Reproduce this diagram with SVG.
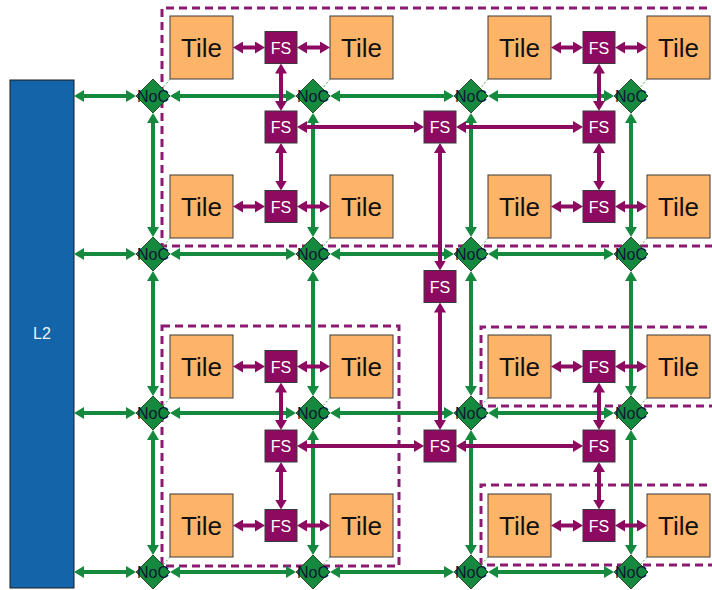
<svg xmlns="http://www.w3.org/2000/svg" width="712" height="590" viewBox="0 0 712 590">
<style>
.tile{fill:#FDB469;stroke:#3a3a3a;stroke-width:1}
.tt{font-family:"Liberation Sans",Arial,sans-serif;font-size:26px;fill:#111;text-anchor:middle}
.fs{fill:#8C0A60;stroke:#3a3a3a;stroke-width:1}
.ft{font-family:"Liberation Sans",Arial,sans-serif;font-size:16px;fill:#fff;text-anchor:middle}
.noc{fill:#15893E;stroke:#2a4a2a;stroke-width:1}
.nt{font-family:"Liberation Sans",Arial,sans-serif;font-size:16px;fill:#0b1733;text-anchor:middle}
.g{stroke:#15893E;stroke-width:4;marker-start:url(#ag);marker-end:url(#ag)}
.p{stroke:#8C0A60;stroke-width:4;marker-start:url(#ap);marker-end:url(#ap)}
.dash{fill:none;stroke:#8C1A72;stroke-width:3;stroke-dasharray:8 5}
.dot{stroke:#4CAF50;stroke-width:1;stroke-dasharray:2 2}
</style>
<defs>
<marker id="ag" markerUnits="userSpaceOnUse" markerWidth="11" markerHeight="12" refX="6" refY="6" orient="auto-start-reverse" viewBox="0 0 11 12"><path d="M0,0 L10,6 L0,12 z" fill="#15893E"/></marker>
<marker id="ap" markerUnits="userSpaceOnUse" markerWidth="11" markerHeight="12" refX="6" refY="6" orient="auto-start-reverse" viewBox="0 0 11 12"><path d="M0,0 L10,6 L0,12 z" fill="#8C0A60"/></marker>
</defs>
<rect width="712" height="590" fill="#fff"/>
<g id="clusters">
<path class="dash" d="M720,8 H162 V246 H720"/>
<rect class="dash" x="162" y="326" width="237" height="240"/>
<path class="dash" d="M720,327 H481 V406 H720"/>
<path class="dash" d="M720,485 H481 V565 H720"/>
</g>
<g id="L2"><rect x="10" y="80" width="64" height="508" fill="#1464AA" stroke="#1a1a1a" stroke-width="1"/><text x="42" y="339" font-family="'Liberation Sans',Arial,sans-serif" font-size="16" fill="#eef3fa" text-anchor="middle">L2</text></g>
<g id="tiles">
<g id="t00"><rect class="tile" x="170" y="16" width="63" height="63"/><text class="tt" x="201.5" y="57">Tile</text></g>
<g id="t01"><rect class="tile" x="330" y="16" width="63" height="63"/><text class="tt" x="361.5" y="57">Tile</text></g>
<g id="t02"><rect class="tile" x="488" y="16" width="63" height="63"/><text class="tt" x="519.5" y="57">Tile</text></g>
<g id="t03"><rect class="tile" x="647" y="16" width="63" height="63"/><text class="tt" x="678.5" y="57">Tile</text></g>
<g id="t10"><rect class="tile" x="170" y="175" width="63" height="63"/><text class="tt" x="201.5" y="216">Tile</text></g>
<g id="t11"><rect class="tile" x="330" y="175" width="63" height="63"/><text class="tt" x="361.5" y="216">Tile</text></g>
<g id="t12"><rect class="tile" x="488" y="175" width="63" height="63"/><text class="tt" x="519.5" y="216">Tile</text></g>
<g id="t13"><rect class="tile" x="647" y="175" width="63" height="63"/><text class="tt" x="678.5" y="216">Tile</text></g>
<g id="t20"><rect class="tile" x="170" y="335" width="63" height="63"/><text class="tt" x="201.5" y="376">Tile</text></g>
<g id="t21"><rect class="tile" x="330" y="335" width="63" height="63"/><text class="tt" x="361.5" y="376">Tile</text></g>
<g id="t22"><rect class="tile" x="488" y="335" width="63" height="63"/><text class="tt" x="519.5" y="376">Tile</text></g>
<g id="t23"><rect class="tile" x="647" y="335" width="63" height="63"/><text class="tt" x="678.5" y="376">Tile</text></g>
<g id="t30"><rect class="tile" x="170" y="494" width="63" height="63"/><text class="tt" x="201.5" y="535">Tile</text></g>
<g id="t31"><rect class="tile" x="330" y="494" width="63" height="63"/><text class="tt" x="361.5" y="535">Tile</text></g>
<g id="t32"><rect class="tile" x="488" y="494" width="63" height="63"/><text class="tt" x="519.5" y="535">Tile</text></g>
<g id="t33"><rect class="tile" x="647" y="494" width="63" height="63"/><text class="tt" x="678.5" y="535">Tile</text></g>
</g>
<g id="connectors">
<g id="tile-noc-links">
<line class="dot" x1="170" y1="79" x2="162" y2="89"/><line class="dot" x1="330" y1="79" x2="322" y2="89"/><line class="dot" x1="488" y1="79" x2="480" y2="89"/><line class="dot" x1="647" y1="79" x2="639" y2="89"/>
<line class="dot" x1="170" y1="238" x2="162" y2="248"/><line class="dot" x1="330" y1="238" x2="322" y2="248"/><line class="dot" x1="488" y1="238" x2="480" y2="248"/><line class="dot" x1="647" y1="238" x2="639" y2="248"/>
<line class="dot" x1="170" y1="398" x2="162" y2="407"/><line class="dot" x1="330" y1="398" x2="322" y2="407"/><line class="dot" x1="488" y1="398" x2="480" y2="407"/><line class="dot" x1="647" y1="398" x2="639" y2="407"/>
<line class="dot" x1="170" y1="557" x2="162" y2="566"/><line class="dot" x1="330" y1="557" x2="322" y2="566"/><line class="dot" x1="488" y1="557" x2="480" y2="566"/><line class="dot" x1="647" y1="557" x2="639" y2="566"/>
</g>
<g id="noc-links">
<line class="g" x1="78" y1="96" x2="132" y2="96"/><line class="g" x1="174" y1="96" x2="292" y2="96"/><line class="g" x1="334" y1="96" x2="450" y2="96"/><line class="g" x1="492" y1="96" x2="610" y2="96"/>
<line class="g" x1="78" y1="254" x2="132" y2="254"/><line class="g" x1="174" y1="254" x2="292" y2="254"/><line class="g" x1="334" y1="254" x2="450" y2="254"/><line class="g" x1="492" y1="254" x2="610" y2="254"/>
<line class="g" x1="78" y1="413" x2="132" y2="413"/><line class="g" x1="174" y1="413" x2="292" y2="413"/><line class="g" x1="334" y1="413" x2="450" y2="413"/><line class="g" x1="492" y1="413" x2="610" y2="413"/>
<line class="g" x1="78" y1="572" x2="132" y2="572"/><line class="g" x1="174" y1="572" x2="292" y2="572"/><line class="g" x1="334" y1="572" x2="450" y2="572"/><line class="g" x1="492" y1="572" x2="610" y2="572"/>
<line class="g" x1="153" y1="117" x2="153" y2="233"/><line class="g" x1="153" y1="275" x2="153" y2="392"/><line class="g" x1="153" y1="434" x2="153" y2="551"/>
<line class="g" x1="313" y1="117" x2="313" y2="233"/><line class="g" x1="313" y1="275" x2="313" y2="392"/><line class="g" x1="313" y1="434" x2="313" y2="551"/>
<line class="g" x1="471" y1="117" x2="471" y2="233"/><line class="g" x1="471" y1="275" x2="471" y2="392"/><line class="g" x1="471" y1="434" x2="471" y2="551"/>
<line class="g" x1="631" y1="117" x2="631" y2="233"/><line class="g" x1="631" y1="275" x2="631" y2="392"/><line class="g" x1="631" y1="434" x2="631" y2="551"/>
</g>
<g id="fs-links">
<line class="p" x1="237" y1="47.5" x2="261" y2="47.5"/><line class="p" x1="301" y1="47.5" x2="326" y2="47.5"/><line class="p" x1="555" y1="47.5" x2="579" y2="47.5"/><line class="p" x1="619" y1="47.5" x2="643" y2="47.5"/>
<line class="p" x1="237" y1="206.5" x2="261" y2="206.5"/><line class="p" x1="301" y1="206.5" x2="326" y2="206.5"/><line class="p" x1="555" y1="206.5" x2="579" y2="206.5"/><line class="p" x1="619" y1="206.5" x2="643" y2="206.5"/>
<line class="p" x1="237" y1="366.5" x2="261" y2="366.5"/><line class="p" x1="301" y1="366.5" x2="326" y2="366.5"/><line class="p" x1="555" y1="366.5" x2="579" y2="366.5"/><line class="p" x1="619" y1="366.5" x2="643" y2="366.5"/>
<line class="p" x1="237" y1="525.5" x2="261" y2="525.5"/><line class="p" x1="301" y1="525.5" x2="326" y2="525.5"/><line class="p" x1="555" y1="525.5" x2="579" y2="525.5"/><line class="p" x1="619" y1="525.5" x2="643" y2="525.5"/>
<line class="p" x1="281" y1="67.5" x2="281" y2="107"/><line class="p" x1="281" y1="147" x2="281" y2="186.5"/><line class="p" x1="281" y1="386.5" x2="281" y2="426"/><line class="p" x1="281" y1="466" x2="281" y2="505.5"/>
<line class="p" x1="599" y1="67.5" x2="599" y2="107"/><line class="p" x1="599" y1="147" x2="599" y2="186.5"/><line class="p" x1="599" y1="386.5" x2="599" y2="426"/><line class="p" x1="599" y1="466" x2="599" y2="505.5"/>
<line class="p" x1="440" y1="147" x2="440" y2="266.5"/><line class="p" x1="440" y1="306.5" x2="440" y2="426"/>
<line class="p" x1="301" y1="127" x2="420" y2="127"/><line class="p" x1="460" y1="127" x2="579" y2="127"/>
<line class="p" x1="301" y1="446" x2="420" y2="446"/><line class="p" x1="460" y1="446" x2="579" y2="446"/>
</g>
</g>
<g id="nocs">
<g id="n00"><polygon class="noc" points="153,79 170,96 153,113 136,96"/><text class="nt" x="153" y="102">NoC</text></g>
<g id="n01"><polygon class="noc" points="313,79 330,96 313,113 296,96"/><text class="nt" x="313" y="102">NoC</text></g>
<g id="n02"><polygon class="noc" points="471,79 488,96 471,113 454,96"/><text class="nt" x="471" y="102">NoC</text></g>
<g id="n03"><polygon class="noc" points="631,79 648,96 631,113 614,96"/><text class="nt" x="631" y="102">NoC</text></g>
<g id="n10"><polygon class="noc" points="153,237 170,254 153,271 136,254"/><text class="nt" x="153" y="260">NoC</text></g>
<g id="n11"><polygon class="noc" points="313,237 330,254 313,271 296,254"/><text class="nt" x="313" y="260">NoC</text></g>
<g id="n12"><polygon class="noc" points="471,237 488,254 471,271 454,254"/><text class="nt" x="471" y="260">NoC</text></g>
<g id="n13"><polygon class="noc" points="631,237 648,254 631,271 614,254"/><text class="nt" x="631" y="260">NoC</text></g>
<g id="n20"><polygon class="noc" points="153,396 170,413 153,430 136,413"/><text class="nt" x="153" y="419">NoC</text></g>
<g id="n21"><polygon class="noc" points="313,396 330,413 313,430 296,413"/><text class="nt" x="313" y="419">NoC</text></g>
<g id="n22"><polygon class="noc" points="471,396 488,413 471,430 454,413"/><text class="nt" x="471" y="419">NoC</text></g>
<g id="n23"><polygon class="noc" points="631,396 648,413 631,430 614,413"/><text class="nt" x="631" y="419">NoC</text></g>
<g id="n30"><polygon class="noc" points="153,555 170,572 153,589 136,572"/><text class="nt" x="153" y="578">NoC</text></g>
<g id="n31"><polygon class="noc" points="313,555 330,572 313,589 296,572"/><text class="nt" x="313" y="578">NoC</text></g>
<g id="n32"><polygon class="noc" points="471,555 488,572 471,589 454,572"/><text class="nt" x="471" y="578">NoC</text></g>
<g id="n33"><polygon class="noc" points="631,555 648,572 631,589 614,572"/><text class="nt" x="631" y="578">NoC</text></g>
</g>
<g id="fss">
<g id="fsA0"><rect class="fs" x="265" y="31.5" width="32" height="32"/><text class="ft" x="281" y="53.5">FS</text></g>
<g id="fsA1"><rect class="fs" x="583" y="31.5" width="32" height="32"/><text class="ft" x="599" y="53.5">FS</text></g>
<g id="fsB0"><rect class="fs" x="265" y="111" width="32" height="32"/><text class="ft" x="281" y="133">FS</text></g>
<g id="fsB1"><rect class="fs" x="424" y="111" width="32" height="32"/><text class="ft" x="440" y="133">FS</text></g>
<g id="fsB2"><rect class="fs" x="583" y="111" width="32" height="32"/><text class="ft" x="599" y="133">FS</text></g>
<g id="fsC0"><rect class="fs" x="265" y="190.5" width="32" height="32"/><text class="ft" x="281" y="212.5">FS</text></g>
<g id="fsC1"><rect class="fs" x="583" y="190.5" width="32" height="32"/><text class="ft" x="599" y="212.5">FS</text></g>
<g id="fsD"><rect class="fs" x="424" y="270.5" width="32" height="32"/><text class="ft" x="440" y="292.5">FS</text></g>
<g id="fsE0"><rect class="fs" x="265" y="350.5" width="32" height="32"/><text class="ft" x="281" y="372.5">FS</text></g>
<g id="fsE1"><rect class="fs" x="583" y="350.5" width="32" height="32"/><text class="ft" x="599" y="372.5">FS</text></g>
<g id="fsF0"><rect class="fs" x="265" y="430" width="32" height="32"/><text class="ft" x="281" y="452">FS</text></g>
<g id="fsF1"><rect class="fs" x="424" y="430" width="32" height="32"/><text class="ft" x="440" y="452">FS</text></g>
<g id="fsF2"><rect class="fs" x="583" y="430" width="32" height="32"/><text class="ft" x="599" y="452">FS</text></g>
<g id="fsG0"><rect class="fs" x="265" y="509.5" width="32" height="32"/><text class="ft" x="281" y="531.5">FS</text></g>
<g id="fsG1"><rect class="fs" x="583" y="509.5" width="32" height="32"/><text class="ft" x="599" y="531.5">FS</text></g>
</g>
</svg>
